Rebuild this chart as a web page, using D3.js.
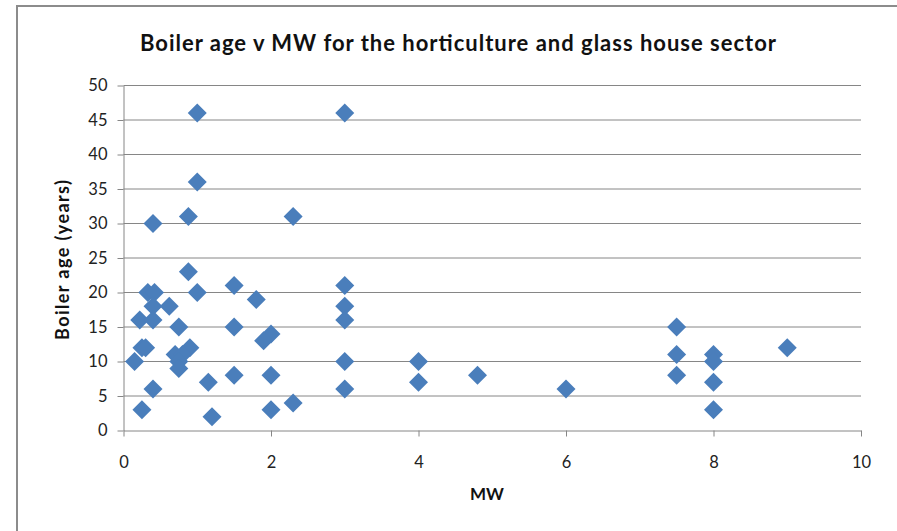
<!DOCTYPE html>
<html>
<head>
<meta charset="utf-8">
<script src="https://cdn.jsdelivr.net/npm/d3@7"></script>
<style>
  body { margin: 0; background: #fff; }
  text { font-family: Lato, "Open Sans", sans-serif; }
</style>
</head>
<body>
<div id="chart"></div>
<script>
// boiler capacity (MW) and boiler age (years)
const mw = [1.0, 3.0, 1.0, 0.88, 2.3, 0.4, 0.88, 1.5, 3.0, 0.33, 0.42, 1.0, 1.8,
  0.4, 0.62, 3.0, 0.22, 0.4, 3.0, 0.75, 1.5, 7.5, 2.0, 1.9, 0.25, 0.3, 0.9, 9.0,
  0.7, 0.8, 7.5, 8.0, 0.15, 0.75, 3.0, 4.0, 8.0, 0.75, 1.5, 2.0, 4.8, 7.5, 1.15,
  4.0, 8.0, 0.4, 3.0, 6.0, 2.3, 0.25, 2.0, 8.0, 1.2];
const age = [46, 46, 36, 31, 31, 30, 23, 21, 21, 20, 20, 20, 19,
  18, 18, 18, 16, 16, 16, 15, 15, 15, 14, 13, 12, 12, 12, 12,
  11, 11, 11, 11, 10, 10, 10, 10, 10, 9, 8, 8, 8, 8, 7,
  7, 7, 6, 6, 6, 4, 3, 3, 3, 2];

const xTicks = [0, 2, 4, 6, 8, 10];
const yTicks = [0, 5, 10, 15, 20, 25, 30, 35, 40, 45, 50];

const title = "Boiler age v MW for the horticulture and glass house sector";
const xTitle = "MW";
const yTitle = "Boiler age (years)";

const width = 897;
const height = 531;

const svg = d3.select("#chart")
  .append("svg")
  .attr("width", width)
  .attr("height", height);

// chart area border (right and bottom edges fall outside the picture)
svg.append("path")
  .attr("d", `M17,${height + 5}V6H${width + 5}`)
  .attr("fill", "none")
  .attr("stroke", "#8c8c8c")
  .attr("stroke-width", 2);

const x = d3.scaleLinear().domain([0, 10]).range([123.5, 861]);
const y = d3.scaleLinear().domain([0, 50]).range([430.5, 85.5]);

// gridlines
svg.append("g")
  .selectAll("line")
  .data(yTicks.slice(1))
  .enter()
  .append("line")
  .attr("x1", x(0))
  .attr("x2", x(10))
  .attr("y1", d => y(d))
  .attr("y2", d => y(d))
  .attr("stroke", "#868686")
  .attr("stroke-width", 1);

const yAxis = svg.append("g")
  .attr("transform", `translate(${x(0)},0)`)
  .call(d3.axisLeft(y).tickValues(yTicks).tickSize(6).tickPadding(10).tickSizeOuter(0));

const xAxis = svg.append("g")
  .attr("transform", `translate(0,${y(0)})`)
  .call(d3.axisBottom(x).tickValues(xTicks).tickSize(6).tickPadding(20).tickSizeOuter(0));

[yAxis, xAxis].forEach(a => {
  a.select(".domain").attr("stroke", "#868686");
  a.selectAll(".tick line").attr("stroke", "#868686");
  a.selectAll(".tick text")
    .attr("fill", "#222")
    .style("font-size", "16.5px")
    .style("font-family", "Lato, sans-serif");
});

// diamonds
const r = 9.5;
svg.append("g")
  .selectAll("path")
  .data(mw.map((m, i) => [m, age[i]]))
  .enter()
  .append("path")
  .attr("transform", d => `translate(${x(d[0])},${y(d[1])})`)
  .attr("d", `M0,${-r}L${r},0L0,${r}L${-r},0Z`)
  .attr("fill", "#4a7ebb");

svg.append("text")
  .attr("x", 140)
  .attr("y", 51)
  .attr("textLength", 636)
  .attr("lengthAdjust", "spacing")
  .style("font-size", "22px")
  .style("font-weight", "bold")
  .attr("fill", "#111")
  .text(title);

svg.append("text")
  .attr("x", 487)
  .attr("y", 500)
  .attr("text-anchor", "middle")
  .style("font-size", "17px")
  .style("font-weight", "bold")
  .attr("fill", "#111")
  .text(xTitle);

svg.append("text")
  .attr("transform", "translate(69,340) rotate(-90)")
  .attr("textLength", 160)
  .attr("lengthAdjust", "spacing")
  .style("font-size", "18px")
  .style("font-weight", "bold")
  .attr("fill", "#111")
  .text(yTitle);
</script>
</body>
</html>
